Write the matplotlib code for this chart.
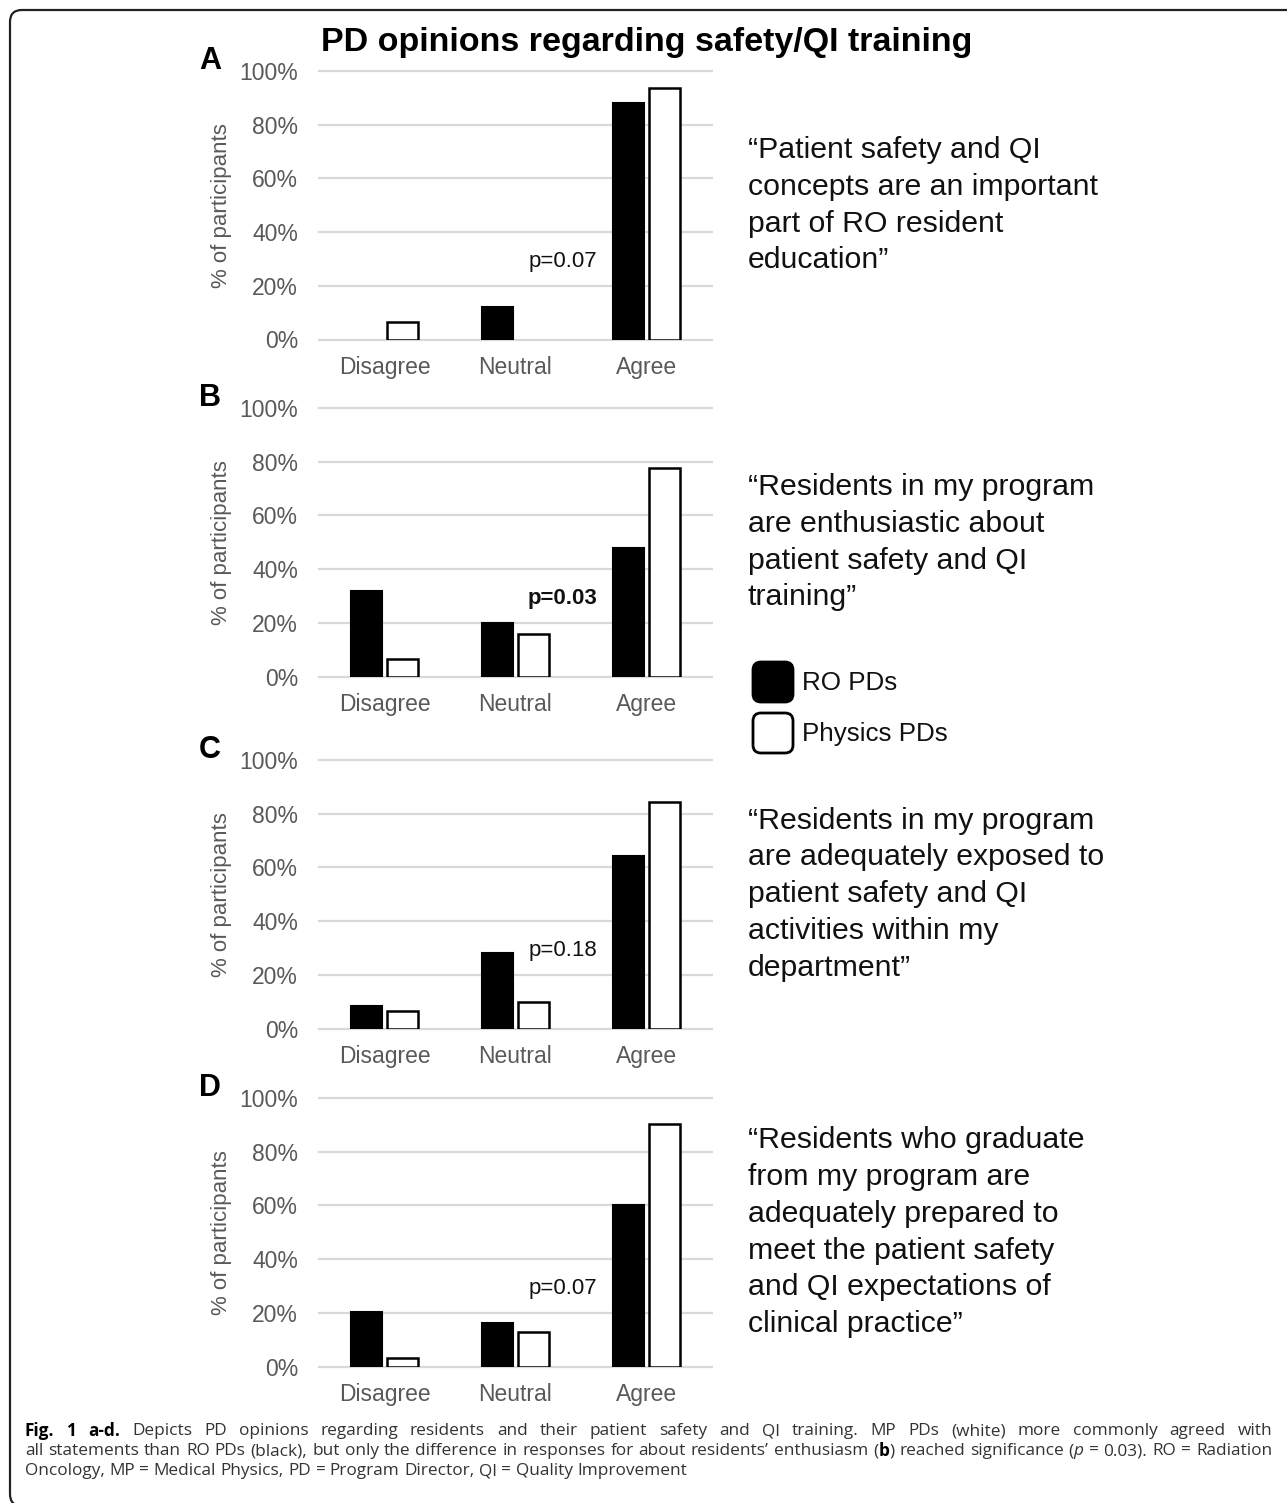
import re
import matplotlib
matplotlib.use("Agg")
import matplotlib.pyplot as plt
from matplotlib.patches import FancyBboxPatch
from matplotlib.ticker import PercentFormatter

plt.rcParams['font.family'] = ['Liberation Sans', 'DejaVu Sans']

categories = ["Disagree", "Neutral", "Agree"]
panel_letters = ["A", "B", "C", "D"]

# % of participants per response, RO program directors vs physics program directors
ro_a = [0, 12, 88]
phys_a = [6.5, 0, 93.5]
ro_b = [32, 20, 48]
phys_b = [6.5, 16, 77.5]
ro_c = [8.3, 28.3, 64.2]
phys_c = [6.5, 10, 84.2]
ro_d = [20.3, 16.1, 60]
phys_d = [3.2, 12.9, 90.5]

p_labels = ["p=0.07", "p=0.03", "p=0.18", "p=0.07"]
p_bold = [False, True, False, False]

statements = [
    "\u201cPatient safety and QI\nconcepts are an important\npart of RO resident\neducation\u201d",
    "\u201cResidents in my program\nare enthusiastic about\npatient safety and QI\ntraining\u201d",
    "\u201cResidents in my program\nare adequately exposed to\npatient safety and QI\nactivities within my\ndepartment\u201d",
    "\u201cResidents who graduate\nfrom my program are\nadequately prepared to\nmeet the patient safety\nand QI expectations of\nclinical practice\u201d",
]

title = "PD opinions regarding safety/QI training"
legend_labels = ["RO PDs", "Physics PDs"]

caption_lines = [
    "**Fig.** **1** **a-d.** Depicts PD opinions regarding residents and their patient safety and QI training. "
    "MP PDs (white) more commonly agreed with",
    "all statements than RO PDs (black), but only the difference in responses for about residents\u2019 "
    "enthusiasm (**b**) reached significance (_p_ = 0.03). RO = Radiation",
    "Oncology, MP = Medical Physics, PD = Program Director, QI = Quality Improvement",
]

W, H = 1287, 1503
fig = plt.figure(figsize=(W / 100, H / 100), dpi=100)
px = fig.dpi_scale_trans  # inches; 1 px = 0.01 in


def fy(y):
    return (H - y) / 100


gray = "#595959"
ax_left, ax_width, ax_height = 319, 393, 268.5
ax_tops = [71, 408, 760, 1098]
bar_w, offset = 0.237, 0.141

panels = [(ro_a, phys_a), (ro_b, phys_b), (ro_c, phys_c), (ro_d, phys_d)]
xs = range(len(categories))

for i, (ro, phys) in enumerate(panels):
    top = ax_tops[i]
    ax = fig.add_axes([ax_left / W, 1 - (top + ax_height) / H, ax_width / W, ax_height / H])
    b1 = ax.bar([x - offset for x in xs], ro, bar_w, color="black", edgecolor="black", lw=1.5, zorder=3)
    b2 = ax.bar([x + offset for x in xs], phys, bar_w, color="white", edgecolor="black", lw=1.8, zorder=3)
    for r in list(b1) + list(b2):
        if r.get_height() == 0:
            r.set_visible(False)

    ax.set_xlim(-0.5, 2.5)
    ax.set_ylim(0, 100)
    ax.set_yticks(range(0, 101, 20))
    ax.yaxis.set_major_formatter(PercentFormatter(xmax=100, decimals=0))
    ax.set_xticks(list(xs))
    ax.set_xticklabels(categories)
    ax.tick_params(length=0, labelcolor=gray, labelsize=16.5)
    ax.tick_params(axis="y", pad=15)
    ax.tick_params(axis="x", pad=12)
    for s in ax.spines.values():
        s.set_visible(False)
    ax.grid(axis="y", color="#d9d9d9", lw=1.6)
    for gl in ax.get_ygridlines():
        gl.set_clip_on(False)
    ax.set_axisbelow(True)

    ax.text(-0.247, 0.5, "% of participants", transform=ax.transAxes, rotation=90,
            ha="center", va="center", color=gray, fontsize=16)
    ax.text(-0.277, 1.037, panel_letters[i], transform=ax.transAxes, ha="center", va="center",
            fontsize=22, fontweight="bold", color="black")
    ax.text(1.36, 29, p_labels[i], ha="center", va="center", fontsize=16, color="#111111",
            fontweight="bold" if p_bold[i] else "normal")
    ax.text(1.0916, 0.5, statements[i], transform=ax.transAxes, ha="left", va="center",
            fontsize=21.8, color="#111111", linespacing=1.4)

fig.text(646.5 / W, 1 - 42 / H, title, ha="center", va="center", fontsize=24.5, fontweight="bold")

# legend swatches
for j, (lab, fc) in enumerate(zip(legend_labels, ["black", "white"])):
    ytop = 662 + j * 51
    sw = FancyBboxPatch((753 / 100, fy(ytop + 40)), 0.40, 0.40,
                        boxstyle="round,pad=0,rounding_size=0.08",
                        transform=px, facecolor=fc, edgecolor="black", lw=2.0)
    fig.patches.append(sw)
    fig.text(802 / W, 1 - (ytop + 21) / H, lab, ha="left", va="center", fontsize=18.7, color="#111111")

# rounded frame; runs off the right and bottom edges of the page
frame = FancyBboxPatch((10 / 100, fy(1506)), 12.95, 14.96,
                       boxstyle="round,pad=0,rounding_size=0.12",
                       transform=px, facecolor="none", edgecolor="#222222", lw=1.6)
fig.patches.append(frame)

# caption, justified word by word
renderer = fig.canvas.get_renderer()
cap_font = ['Open Sans', 'DejaVu Sans']
x0, x1 = 25, 1272
line_y = [1431, 1451, 1471]


def parse(line):
    words = []
    for w in line.split(" "):
        segs = []
        for part in re.split(r"(\*\*.+?\*\*|_.+?_)", w):
            if not part:
                continue
            if part.startswith("**"):
                segs.append((part[2:-2], dict(fontweight="bold", color="black")))
            elif part.startswith("_") and len(part) > 2:
                segs.append((part[1:-1], dict(fontstyle="italic", color="#333333")))
            else:
                segs.append((part, dict(color="#333333")))
        words.append(segs)
    return words


def make_words(line, size):
    out = []
    for segs in parse(line):
        items = []
        for txt, kw in segs:
            t = fig.text(0, 0, txt, fontsize=size, family=cap_font, ha="left", va="center", **kw)
            items.append((t, t.get_window_extent(renderer).width))
        out.append(items)
    return out


size = 12.5
probe = make_words(caption_lines[1], size)
space_px = size * 100 / 72 * 0.26
natural = sum(w for items in probe for _, w in items) + space_px * (len(probe) - 1)
for items in probe:
    for t, _ in items:
        t.remove()
if natural > (x1 - x0) * 0.99:
    size *= (x1 - x0) * 0.99 / natural
space_px = size * 100 / 72 * 0.26

for k, line in enumerate(caption_lines):
    words = make_words(line, size)
    widths = [sum(w for _, w in items) for items in words]
    if k < len(caption_lines) - 1:
        gap = (x1 - x0 - sum(widths)) / (len(words) - 1)
    else:
        gap = space_px
    x = x0
    for items, ww in zip(words, widths):
        xi = x
        for t, w in items:
            t.set_position((xi / W, 1 - line_y[k] / H))
            xi += w
        x += ww + gap

fig.savefig("out.png", dpi=100)
